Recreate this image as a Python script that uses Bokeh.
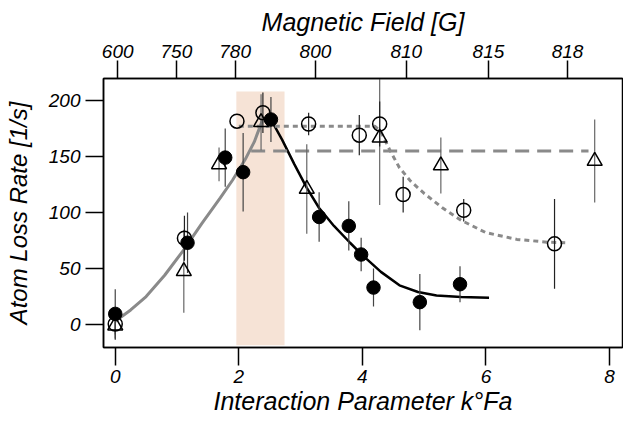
from bokeh.plotting import figure
from bokeh.models import Range1d, LinearAxis, FixedTicker, ColumnDataSource
from bokeh.embed import file_html
from bokeh.resources import INLINE

# ---------------- data ----------------
# filled circles
fc_x = [0.0, 1.17, 1.78, 2.07, 2.52, 3.30, 3.78, 3.98, 4.18, 4.93, 5.58]
fc_y = [9.5, 73, 149, 136, 183, 96, 88, 62.5, 33, 20, 36]
fc_e = [22, 27, 26, 35, 20, 22, 22, 15, 17, 25, 16]

# open circles
oc_x = [0.0, 1.12, 1.97, 2.39, 3.13, 3.95, 4.28, 4.66, 5.64, 7.11]
oc_y = [0.5, 77, 181.5, 189, 179, 169, 179, 116, 102, 72]
oc_e = [14, 20, 0, 18, 10, 18, 20, 16, 10, 40]

# open triangles
tr_x = [0.0, 1.11, 1.68, 2.36, 3.10, 4.28, 5.27, 7.76]
tr_y = [-1, 47.6, 143, 180.6, 121, 166.7, 142, 146]
tr_e = [8, 37, 15, 25, 40, 60, 25, 37]

# fit curves
rise_x = [0.0, 0.25, 0.5, 0.8, 1.1, 1.4, 1.7, 1.9, 2.1, 2.25, 2.38]
rise_y = [3, 13, 25, 44, 66, 90, 113, 129, 147, 163, 182]

fall_x = [2.52, 2.7, 2.9, 3.1, 3.3, 3.54, 3.8, 4.0, 4.3, 4.6, 4.9, 5.2, 5.6, 6.05]
fall_y = [183, 165, 143, 122, 104, 88, 73, 62, 47, 35, 29, 26, 24.5, 24]

dot_x = [2.0, 4.2, 4.3, 4.45, 4.6, 4.78, 5.0, 5.3, 5.6, 6.0, 6.5, 7.0, 7.31]
dot_y = [177, 177, 172, 155, 140, 128, 117, 104, 93, 82, 76, 73.5, 73]

dash_x = [2.2, 7.66]
dash_y = [155, 155]

# shaded region (k_F a)
band_x = [1.96, 2.74]
band_y = [-18.5, 208]

# top axis: magnetic field tick labels and their k_F a positions
field_labels = ["600", "750", "780", "800", "810", "815", "818"]
field_pos = [0.04, 0.99, 1.94, 3.24, 4.71, 6.04, 7.32]

bottom_ticks = [0, 2, 4, 6, 8]
left_ticks = [0, 50, 100, 150, 200]

FONT = "Liberation Sans"

p = figure(width=623, height=422, output_backend="svg", toolbar_location=None,
           x_range=Range1d(-0.19, 8.21), y_range=Range1d(-20.5, 219.6),
           min_border_left=103, min_border_right=1, min_border_top=78, min_border_bottom=75,
           x_axis_location=None, y_axis_location=None)
p.grid.visible = False
p.outline_line_color = "black"
p.outline_line_width = 1.5
p.background_fill_color = "white"
p.border_fill_color = "white"


def style_axis(ax, label_size="19px"):
    ax.major_tick_out = 18
    ax.major_tick_in = 0
    ax.minor_tick_out = 0
    ax.minor_tick_in = 0
    ax.major_tick_line_width = 1.5
    ax.axis_line_width = 1.5
    ax.major_label_text_font = FONT
    ax.major_label_text_font_style = "italic"
    ax.major_label_text_font_size = label_size
    ax.major_label_text_color = "black"
    ax.axis_label_text_font = FONT
    ax.axis_label_text_font_style = "italic"
    ax.axis_label_text_font_size = "25px"
    ax.axis_label_text_color = "black"


bx = LinearAxis(ticker=FixedTicker(ticks=bottom_ticks), axis_label="Interaction Parameter k°Fa")
style_axis(bx)
bx.major_label_standoff = 4
bx.axis_label_standoff = 1
p.add_layout(bx, "below")

ly = LinearAxis(ticker=FixedTicker(ticks=left_ticks), axis_label="Atom Loss Rate [1/s]")
style_axis(ly)
ly.major_label_standoff = 5
ly.axis_label_standoff = 14
ly.axis_label_text_font_size = "24px"
p.add_layout(ly, "left")

tx = LinearAxis(ticker=FixedTicker(ticks=field_pos), axis_label="Magnetic Field [G]",
                major_label_overrides={pos: lab for pos, lab in zip(field_pos, field_labels)})
style_axis(tx)
tx.major_label_standoff = 3
tx.axis_label_standoff = 6
p.add_layout(tx, "above")

# shaded band
p.quad(left=[band_x[0]], right=[band_x[1]], bottom=[band_y[0]], top=[band_y[1]],
       fill_color="#f6e3d6", line_color=None)

# curves
p.line(rise_x, rise_y, line_color="#8a8a8a", line_width=3)
p.line(fall_x, fall_y, line_color="black", line_width=2.5)
p.line(dot_x, dot_y, line_color="#8a8a8a", line_width=3, line_dash="5 4")
p.line(dash_x, dash_y, line_color="#8a8a8a", line_width=3, line_dash="14 8")

# error bars
def err_src(xs, ys, es):
    return ColumnDataSource(dict(x=xs, lo=[y - e for y, e in zip(ys, es)], hi=[y + e for y, e in zip(ys, es)]))

p.segment(x0="x", y0="lo", x1="x", y1="hi", source=err_src(tr_x, tr_y, tr_e), line_color="#666666", line_width=1.2)
p.segment(x0="x", y0="lo", x1="x", y1="hi", source=err_src(oc_x, oc_y, oc_e), line_color="#222222", line_width=1.2)
p.segment(x0="x", y0="lo", x1="x", y1="hi", source=err_src(fc_x, fc_y, fc_e), line_color="#444444", line_width=1.2)

# markers
p.scatter(tr_x, tr_y, marker="triangle", size=15, fill_color=None, line_color="black", line_width=1.5)
p.scatter(oc_x, oc_y, marker="circle", size=14, fill_color=None, line_color="black", line_width=1.5)
p.scatter(fc_x, fc_y, marker="circle", size=13.5, fill_color="black", line_color="black", line_width=1)

open("out.html", "w").write(file_html(p, INLINE))
